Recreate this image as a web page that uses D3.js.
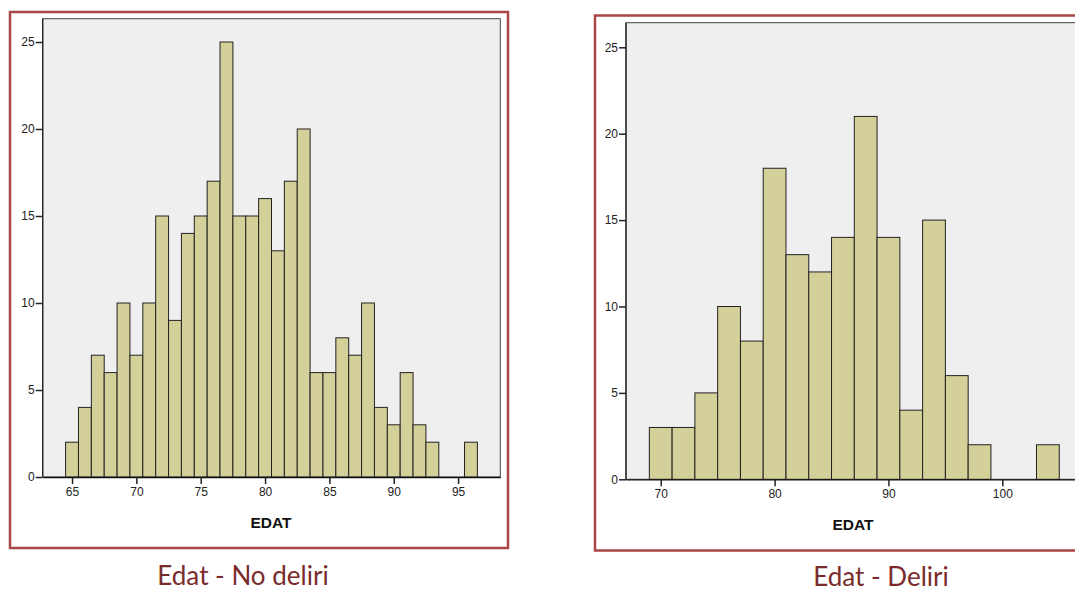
<!DOCTYPE html>
<html>
<head>
<meta charset="utf-8">
<script src="https://cdn.jsdelivr.net/npm/d3@7"></script>
<style>
  html, body { margin: 0; padding: 0; background: #ffffff; overflow: hidden; }
  svg { display: block; }
  .tick text { font-family: "Liberation Sans", Arial, sans-serif; font-size: 12px; fill: #222; }
</style>
</head>
<body>
<svg id="chart" width="1075" height="592"></svg>
<script>
// ---- Data ----
// Left histogram: Edat - No deliri (bins of width 1, centered on integer ages)
const leftAges = [65,66,67,68,69,70,71,72,73,74,75,76,77,78,79,80,81,82,83,84,85,86,87,88,89,90,91,92,93,94,95,96];
const leftCounts = [2,4,7,6,10,7,10,15,9,14,15,17,25,15,15,16,13,17,20,6,6,8,7,10,4,3,6,3,2,0,0,2];
const leftXTicks = [65,70,75,80,85,90,95];

// Right histogram: Edat - Deliri (bins of width 2, starting at 69)
const rightBinStarts = [69,71,73,75,77,79,81,83,85,87,89,91,93,95,97,99,101,103];
const rightCounts = [3,3,5,10,8,18,13,12,14,21,14,4,15,6,2,0,0,2];
const rightXTicks = [70,80,90,100];

const yTicks = [0,5,10,15,20,25];
const xLabel = "EDAT";
const titles = ["Edat - No deliri", "Edat - Deliri"];

// ---- Drawing ----
const svg = d3.select("#chart");
const BAR_FILL = "#d4d09a";
const BG = "#efefef";
const FRAME_RED = "#a94646";
const TITLE_COLOR = "#7a2c2c";

function panel(cfg) {
  const g = svg.append("g");
  // outer red frame
  g.append("rect")
    .attr("x", cfg.frame[0]).attr("y", cfg.frame[1])
    .attr("width", cfg.frame[2]).attr("height", cfg.frame[3])
    .attr("fill", "#fff").attr("stroke", FRAME_RED).attr("stroke-width", 2.5);

  const x = d3.scaleLinear().domain(cfg.xDomain).range([cfg.plot.left, cfg.plot.right]);
  const y = d3.scaleLinear().domain([0, 25]).range([cfg.plot.zero, cfg.plot.y25]);

  // plot background
  g.append("rect")
    .attr("x", cfg.plot.left).attr("y", cfg.plot.top)
    .attr("width", cfg.plot.right - cfg.plot.left)
    .attr("height", cfg.plot.zero - cfg.plot.top)
    .attr("fill", BG).attr("stroke", "#444").attr("stroke-width", 1);

  // bars
  g.append("g").selectAll("rect").data(cfg.bins).join("rect")
    .attr("x", d => x(d.x0))
    .attr("width", d => x(d.x1) - x(d.x0))
    .attr("y", d => y(d.n))
    .attr("height", d => y(0) - y(d.n))
    .attr("fill", BAR_FILL)
    .attr("stroke", "#222")
    .attr("stroke-width", 1)
    .style("display", d => d.n > 0 ? null : "none");

  // axes
  const xAxis = d3.axisBottom(x).tickValues(cfg.xTicks).tickSize(7).tickPadding(3).tickSizeOuter(0);
  const gx = g.append("g").attr("transform", `translate(0,${cfg.plot.zero})`).call(xAxis);
  gx.select(".domain").attr("stroke", "#111").attr("stroke-width", 1.3);
  gx.selectAll(".tick line").attr("stroke", "#222").attr("stroke-width", 1.5);

  const yAxis = d3.axisLeft(y).tickValues(yTicks).tickSize(7).tickPadding(1).tickSizeOuter(0);
  const gy = g.append("g").attr("transform", `translate(${cfg.plot.left},0)`).call(yAxis);
  gy.select(".domain").remove();
  gy.append("line").attr("x1", 0).attr("x2", 0).attr("y1", cfg.plot.top).attr("y2", cfg.plot.zero)
    .attr("stroke", "#222").attr("stroke-width", 1.3);
  gy.selectAll(".tick line").attr("stroke", "#222").attr("stroke-width", 1.5);

  // axis title
  g.append("text")
    .attr("x", cfg.xLabelPos[0]).attr("y", cfg.xLabelPos[1])
    .attr("text-anchor", "middle")
    .style("font-family", "'Liberation Sans', Arial, sans-serif")
    .style("font-weight", "bold").style("font-size", "15.5px").style("fill", "#111")
    .text(xLabel);

  // caption
  g.append("text")
    .attr("x", cfg.titlePos[0]).attr("y", cfg.titlePos[1])
    .attr("text-anchor", "middle")
    .style("font-family", "Lato, 'Open Sans', sans-serif")
    .style("font-size", "26px").style("fill", TITLE_COLOR)
    .text(cfg.title);
}

panel({
  frame: [10, 12, 498, 536],
  plot: { left: 42.7, right: 500.3, top: 18.7, zero: 477, y25: 42 },
  xDomain: [62.72, 98.28],
  bins: leftAges.map((a, i) => ({ x0: a - 0.5, x1: a + 0.5, n: leftCounts[i] })),
  xTicks: leftXTicks,
  xLabelPos: [271, 528],
  titlePos: [243, 585],
  title: titles[0]
});

panel({
  frame: [595, 15.5, 520, 535],
  plot: { left: 626, right: 1090, top: 22.7, zero: 479.3, y25: 47.3 },
  xDomain: [66.95, 107.7],
  bins: rightBinStarts.map((s, i) => ({ x0: s, x1: s + 2, n: rightCounts[i] })),
  xTicks: rightXTicks,
  xLabelPos: [853, 530],
  titlePos: [881, 586],
  title: titles[1]
});
</script>
</body>
</html>
